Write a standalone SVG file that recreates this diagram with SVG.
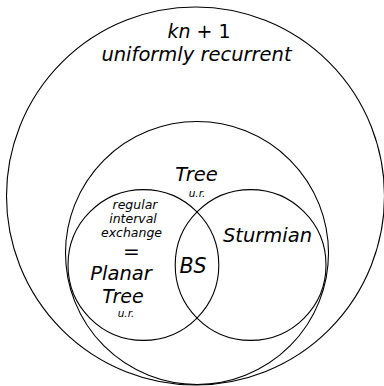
<svg xmlns="http://www.w3.org/2000/svg" width="384" height="386" viewBox="0 0 384 386">
<style>
.c{fill:none;stroke:#000;stroke-width:1.1}
.t{font-family:"DejaVu Sans",sans-serif;font-style:oblique;fill:#000;text-anchor:middle}
.u{font-style:normal}
</style>
<rect width="384" height="386" fill="#fff"/>
<g id="connectors"></g>
<g id="outer"><circle class="c" cx="195.5" cy="196" r="189"/>
<text class="t" x="199" y="38" font-size="19">kn <tspan class="u">+ 1</tspan></text>
<text class="t" x="196.5" y="61" font-size="19.5">uniformly recurrent</text></g>
<g id="tree"><circle class="c" cx="197" cy="253" r="131.5"/>
<text class="t" x="196.5" y="181" font-size="19.5">Tree</text>
<text class="t" x="197" y="197" font-size="10.5">u.r.</text></g>
<g id="planar"><circle class="c" cx="143.4" cy="265" r="75.4"/>
<text class="t" x="135" y="209" font-size="12.5">regular</text>
<text class="t" x="133" y="223" font-size="12.5">interval</text>
<text class="t" x="131.5" y="237" font-size="12.5">exchange</text>
<text class="t u" x="131.5" y="258" font-size="20">=</text>
<text class="t" x="121" y="280" font-size="19.5">Planar</text>
<text class="t" x="123" y="303" font-size="19">Tree</text>
<text class="t" x="126" y="317" font-size="10.5">u.r.</text></g>
<g id="sturmian"><circle class="c" cx="250.6" cy="265" r="75.4"/>
<text class="t" x="267.5" y="242" font-size="19.5">Sturmian</text></g>
<g id="bs"><text class="t" x="193" y="273" font-size="20.5">BS</text></g>
</svg>
